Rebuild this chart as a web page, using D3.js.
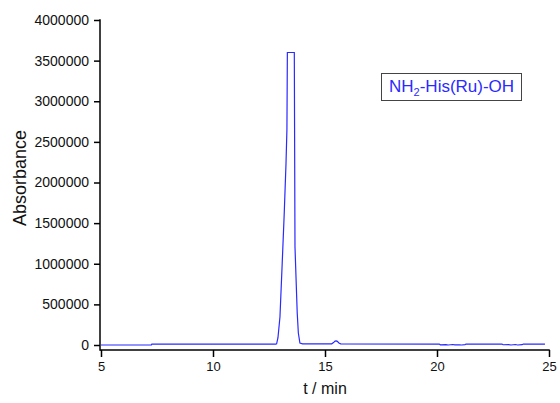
<!DOCTYPE html>
<html>
<head>
<meta charset="utf-8">
<script src="https://cdn.jsdelivr.net/npm/d3@7"></script>
<style>
  body { margin: 0; background: #fff; }
  svg { display: block; font-family: "Liberation Sans", Arial, sans-serif; }
</style>
</head>
<body>
<div id="chart"></div>
<script>
// retention time (min) and detector signal
const times = [5.0, 7.25, 7.27, 12.8, 12.84, 12.9, 12.99, 13.09, 13.18, 13.26, 13.30, 13.32,
    13.63, 13.66, 13.76, 13.81, 13.88, 14.0, 15.3, 15.38, 15.45, 15.5, 15.55, 15.62, 15.7,
    20.1, 20.15, 20.4, 20.5, 20.7, 20.8, 21.0, 21.1, 21.25, 21.3,
    22.9, 22.95, 23.2, 23.3, 23.5, 23.6, 23.8, 23.85, 24.82];
const signal = [0, 0, 12000, 12000, 15000, 90000, 348000, 1010000, 1620000, 2240000, 2650000, 3600000,
    3600000, 1210000, 394000, 148000, 25000, 15000, 15000, 30000, 48000, 50000, 45000, 25000, 14000,
    12000, 2000, 4000, 0, 6000, 1000, 3000, 0, 5000, 12000,
    12000, 3000, 5000, 0, 6000, 0, 4000, 12000, 12000];
const xTicks = [5, 10, 15, 20, 25];
const yTicks = [0, 500000, 1000000, 1500000, 2000000, 2500000, 3000000, 3500000, 4000000];
const legendLabel = ["NH", "2", "-His(Ru)-OH"];

const width = 560, height = 403;
const margin = { top: 20, right: 11, bottom: 53, left: 100 };

const svg = d3.select("#chart").append("svg")
    .attr("width", width)
    .attr("height", height);

const x = d3.scaleLinear()
    .domain([5, 25])
    .range([margin.left + 1, width - margin.right]);

const y = d3.scaleLinear()
    .domain([-61500, 4000000])
    .range([height - margin.bottom, margin.top]);

// x axis, major + minor ticks
const xAxisG = svg.append("g")
    .attr("transform", `translate(0,${height - margin.bottom})`);
xAxisG.call(d3.axisBottom(x).tickValues(d3.range(7.5, 25, 5)).tickSize(4).tickFormat(""));
xAxisG.call(d3.axisBottom(x).tickValues(xTicks).tickSize(7).tickPadding(5).tickFormat(d3.format("d")));
xAxisG.select(".domain").remove();
xAxisG.selectAll("line").attr("stroke", "#000").attr("stroke-width", 1.5);
xAxisG.selectAll("text").attr("font-size", "13px").attr("fill", "#111")
    .attr("font-family", "Liberation Sans, Arial, sans-serif");
xAxisG.append("line")
    .attr("x1", margin.left).attr("x2", x(25) + 0.75)
    .attr("stroke", "#000").attr("stroke-width", 1.5);

// y axis
const yAxisG = svg.append("g")
    .attr("transform", `translate(${margin.left},0)`);
yAxisG.call(d3.axisLeft(y).tickValues(d3.range(250000, 4000000, 500000)).tickSize(4).tickFormat(""));
yAxisG.call(d3.axisLeft(y).tickValues(yTicks).tickSize(6).tickPadding(5).tickFormat(d3.format("d")));
yAxisG.select(".domain").remove();
yAxisG.selectAll("line").attr("stroke", "#000").attr("stroke-width", 1.5);
yAxisG.selectAll("text").attr("font-size", "14px").attr("fill", "#111")
    .attr("font-family", "Liberation Sans, Arial, sans-serif");
yAxisG.append("line")
    .attr("y1", y(4000000) - 0.75).attr("y2", height - margin.bottom + 0.75)
    .attr("stroke", "#000").attr("stroke-width", 1.5);

// chromatogram trace
const line = d3.line()
    .x((d, i) => x(times[i]))
    .y(d => y(d));

svg.append("path")
    .datum(signal)
    .attr("fill", "none")
    .attr("stroke", "#2a2aff")
    .attr("stroke-width", 1.2)
    .attr("d", line);

// axis titles
svg.append("text")
    .attr("x", 325)
    .attr("y", 394)
    .attr("text-anchor", "middle")
    .attr("font-size", "16px")
    .attr("fill", "#111")
    .text("t / min");

svg.append("text")
    .attr("transform", "translate(26,178) rotate(-90)")
    .attr("text-anchor", "middle")
    .attr("font-size", "18px")
    .attr("fill", "#111")
    .text("Absorbance");

// legend box
svg.append("rect")
    .attr("x", 381.5)
    .attr("y", 73.5)
    .attr("width", 140)
    .attr("height", 27)
    .attr("fill", "#fff")
    .attr("stroke", "#444")
    .attr("stroke-width", 1);

const legendText = svg.append("text")
    .attr("x", 389)
    .attr("y", 92)
    .attr("font-size", "17px")
    .attr("fill", "#2a2aff");
legendText.append("tspan").text(legendLabel[0]);
legendText.append("tspan").attr("dy", 4).attr("font-size", "11px").text(legendLabel[1]);
legendText.append("tspan").attr("dy", -4).text(legendLabel[2]);
</script>
</body>
</html>
